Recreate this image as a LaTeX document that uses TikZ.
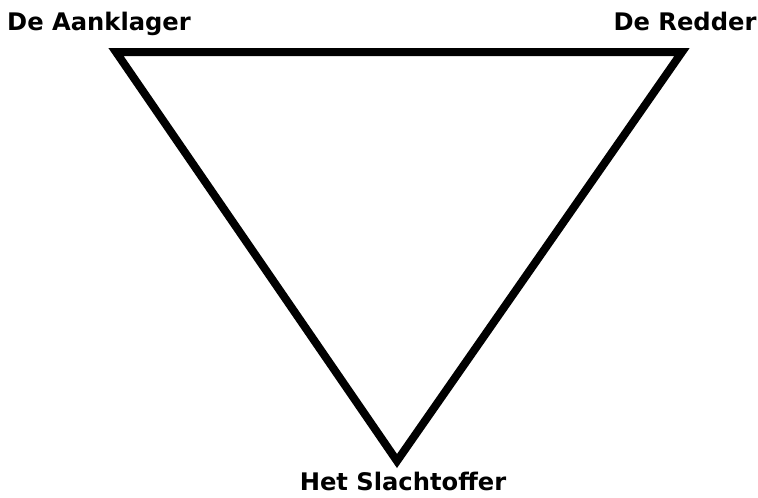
\documentclass[tikz,border=0pt]{standalone}
\usepackage{fontspec}
\setmainfont{DejaVu Sans}
\usetikzlibrary{positioning}

\tikzset{
	rol/.style={font=\bfseries\fontsize{24.2}{28}\selectfont, inner sep=0pt, anchor=base},
	driehoek/.style={line width=8pt, line join=miter}
}

\begin{document}
\begin{tikzpicture}[x=1pt,y=-1pt]
			\useasboundingbox (0,0) rectangle (758,498);
			\coordinate (aanklager) at (116,52);
			\coordinate (redder) at (682,52);
			\coordinate (slachtoffer) at (397,461);
			\draw[driehoek] (aanklager) -- (redder) -- (slachtoffer) -- cycle;
			\node[rol] (aanklagerlabel) at (99,30) {De Aanklager};
			\node[rol] (redderlabel) at (685,30) {De Redder};
			\node[rol] (slachtofferlabel) at (403,490) {Het Slachtoffer};
		\end{tikzpicture}
\end{document}
